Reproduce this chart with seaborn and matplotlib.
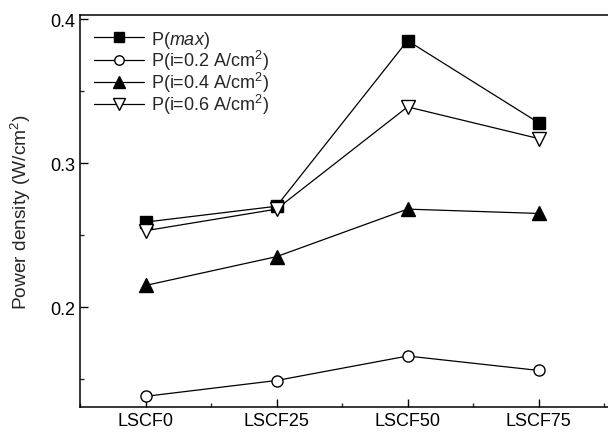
import matplotlib
matplotlib.use("Agg")
import matplotlib.pyplot as plt
import seaborn as sns
import pandas as pd
from matplotlib.ticker import MultipleLocator

categories = ["LSCF0", "LSCF25", "LSCF50", "LSCF75"]
p_max = [0.259, 0.270, 0.385, 0.328]
p_02 = [0.138, 0.149, 0.166, 0.156]
p_04 = [0.215, 0.235, 0.268, 0.265]
p_06 = [0.253, 0.268, 0.339, 0.317]
series_names = ["P($max$)", "P(i=0.2 A/cm$^2$)", "P(i=0.4 A/cm$^2$)", "P(i=0.6 A/cm$^2$)"]

sns.set_style("ticks")
plt.rcParams['font.family'] = ['Liberation Sans', 'DejaVu Sans']
plt.rcParams['mathtext.fontset'] = 'custom'
plt.rcParams['mathtext.it'] = 'Liberation Sans:italic'
plt.rcParams['mathtext.rm'] = 'Liberation Sans'

fig = plt.figure(figsize=(6.08, 4.35), dpi=100)
ax = fig.add_axes([80/608, 1 - 408/435, 528/608, (408 - 16)/435])

x = list(range(len(categories)))
styles = [
    dict(marker="s", mfc="black", ms=8),
    dict(marker="o", mfc="white", ms=8),
    dict(marker="^", mfc="black", ms=9.5),
    dict(marker="v", mfc="white", ms=9.5),
]
for vals, name, st in zip([p_max, p_02, p_04, p_06], series_names, styles):
    df = pd.DataFrame({"x": x, "y": vals})
    sns.lineplot(data=df, x="x", y="y", ax=ax, color="black", lw=0.9,
                 marker=st["marker"], markersize=st["ms"],
                 markerfacecolor=st["mfc"], markeredgecolor="black",
                 markeredgewidth=1.0, label=name)

ax.set_xlim(-0.5, 3.53)
ax.set_ylim(0.1306, 0.4028)
ax.set_xticks(x)
ax.set_xticklabels(categories)
ax.xaxis.set_minor_locator(MultipleLocator(0.5))
ax.yaxis.set_major_locator(MultipleLocator(0.1))
ax.yaxis.set_minor_locator(MultipleLocator(0.05))
ax.yaxis.set_major_formatter(matplotlib.ticker.FormatStrFormatter('%.1f'))
ax.tick_params(which="major", direction="in", length=6, width=1, labelsize=13, colors="black")
ax.tick_params(which="minor", direction="in", length=3, width=1)
ax.set_xlabel("")
ax.set_ylabel("Power density (W/cm$^2$)", fontsize=13.8, labelpad=12)
ax.spines["right"].set_visible(False)
for s in ax.spines.values():
    s.set_linewidth(1.1)
    s.set_color("black")

leg = ax.legend(loc="upper left", frameon=False, fontsize=13, handlelength=2.8,
                handletextpad=0.4, labelspacing=-0.1, borderaxespad=0.35,
                markerscale=0.85, bbox_to_anchor=(0.0, 1.0))

fig.savefig("out.png", dpi=100)
